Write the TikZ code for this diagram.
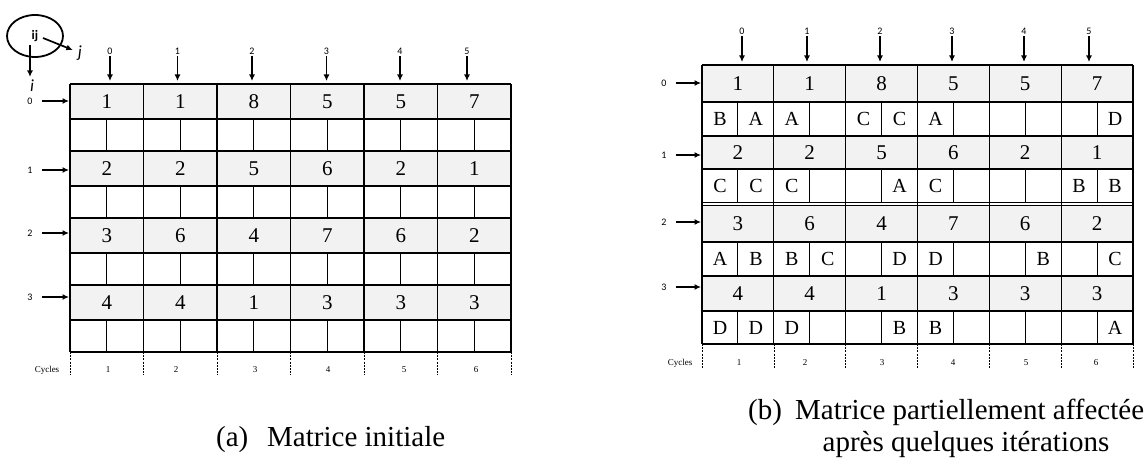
\documentclass[tikz,border=0pt]{standalone}
\usepackage{fontspec}
\setmainfont{Liberation Serif}
\newfontfamily\lblfont{Carlito}
\usetikzlibrary{arrows.meta,shapes.geometric}
\definecolor{cellgray}{HTML}{F2F2F2}
\begin{document}
\begin{tikzpicture}[x=1pt,y=-1pt,
  gridline/.style={line width=1.1pt},
  thickline/.style={line width=2pt},
  cycline/.style={line width=0.6pt,dash pattern=on 2pt off 1.2pt},
  ptr/.style={line width=1.7pt,-{Latex[length=6.5pt,width=6pt]}},
  valtxt/.style={font=\fontsize{21}{21}\selectfont,inner sep=0},
  lettxt/.style={font=\fontsize{20}{20}\selectfont,inner sep=0},
  idx/.style={font=\lblfont\fontsize{10}{10}\selectfont,inner sep=0},
  cyc/.style={font=\fontsize{9}{9}\selectfont,inner sep=0},
  captxt/.style={font=\fontsize{29}{29}\selectfont,inner sep=0,anchor=base west}]
\useasboundingbox (0,0) rectangle (1146,470);

% ================= LEFT MATRIX =================
\foreach \t/\b in {84/119,151/186,218/253,285/320}
  \fill[cellgray] (70,\t) rectangle (511,\b);
\foreach \y in {84,119,186,218,253,285,320,352}
  \draw[gridline] (70,\y) -- (511,\y);
\draw[thickline] (70,151) -- (511,151);
\foreach \i in {0,...,6}
  \draw[gridline] ({70+73.5*\i},84) -- ({70+73.5*\i},352);
\foreach \t/\b in {119/151,186/218,253/285,320/352}
  \foreach \i in {0,...,5}
    \draw[gridline] ({106.75+73.5*\i},\t) -- ({106.75+73.5*\i},\b);
% values
\foreach \r/\y/\vals in {0/101.5/{1,1,8,5,5,7},1/168.5/{2,2,5,6,2,1},2/235.5/{3,6,4,7,6,2},3/302.5/{4,4,1,3,3,3}}
  \foreach \v [count=\c from 0] in \vals
    \node[valtxt] (La\r\c) at ({106.75+73.5*\c},\y) {\v};
% column indices
\foreach \x [count=\c from 0] in {110,177.5,252,326.5,400,467}{
  \node[idx] (Lcol\c) at (\x,51) {\c};
  \coordinate (Lcolend\c) at (\x,81);
  \draw[ptr,shorten <=2pt] (Lcol\c.south) -- (Lcolend\c);
}
% row indices
\foreach \y [count=\r from 0] in {101,170,233,297}{
  \node[idx] (Lrow\r) at (30,\y) {\r};
  \coordinate (Lrowend\r) at (69,\y);
  \draw[ptr] (Lrow\r.east) ++(9,0) -- (Lrowend\r);
}
% cycles
\foreach \i in {0,...,6}
  \draw[cycline] ({70+73.5*\i},352) -- ({70+73.5*\i},375);
\node[cyc] (Lcyc) at (47,370) {Cycles};
\foreach \x [count=\c] in {108,176,255,328,404,476}
  \node[cyc] (Lcyc\c) at (\x,370) {\c};

% ij legend
\node[ellipse,draw,line width=1.8pt,minimum width=56pt,minimum height=42pt,inner sep=0,
      font=\lblfont\bfseries\fontsize{13}{13}\selectfont] (ij) at (35,36) {\raisebox{2pt}{ij}};
\node[font=\lblfont\itshape\fontsize{17}{17}\selectfont,inner sep=0] (jlab) at (80,53) {j};
\node[font=\lblfont\itshape\fontsize{17}{17}\selectfont,inner sep=0] (ilab) at (32,86) {i};
\draw[ptr] ([shift={(8,2)}]ij.center) -- ([shift={(-5,-3)}]jlab.west);
\draw[ptr] ([shift={(-5,9)}]ij.center) -- ([shift={(-2,-3)}]ilab.north);

% ================= RIGHT MATRIX =================
\foreach \t/\b in {65/102,136/169,205/242,276/311}
  \fill[cellgray] (702,\t) rectangle (1133,\b);
\foreach \y in {65,102,169,242,276,311,344}
  \draw[gridline] (702,\y) -- (1133,\y);
\draw[thickline] (702,136) -- (1133,136);
\draw[line width=0.9pt] (702,202.6) -- (1133,202.6);
\draw[line width=0.9pt] (702,205.6) -- (1133,205.6);
\foreach \i in {0,...,6}
  \draw[gridline] ({702+71.83*\i},65) -- ({702+71.83*\i},344);
\foreach \t/\b in {102/136,169/202.6,242/276,311/344}
  \foreach \i in {0,...,5}
    \draw[gridline] ({737.9+71.83*\i},\t) -- ({737.9+71.83*\i},\b);
% values
\foreach \r/\y/\vals in {0/83.5/{1,1,8,5,5,7},1/152.5/{2,2,5,6,2,1},2/223.5/{3,6,4,7,6,2},3/293.5/{4,4,1,3,3,3}}
  \foreach \v [count=\c from 0] in \vals
    \node[valtxt] (Ra\r\c) at ({737.9+71.83*\c},\y) {\v};
% letters
\foreach \r/\y/\lets in {0/119/{B,A,A,{},C,C,A,{},{},{},{},D},
                         1/186/{C,C,C,{},{},A,C,{},{},{},B,B},
                         2/259/{A,B,B,C,{},D,D,{},{},B,{},C},
                         3/327.5/{D,D,D,{},{},B,B,{},{},{},{},A}}
  \foreach \l [count=\k from 0] in \lets
    \node[lettxt] (Rl\r\k) at ({720+35.915*\k},\y) {\l};
% column indices
\foreach \x [count=\c from 0] in {742,807,880,952,1024,1089}{
  \node[idx] (Rcol\c) at (\x,31) {\c};
  \coordinate (Rcolend\c) at (\x,62);
  \draw[ptr,shorten <=2pt] (Rcol\c.south) -- (Rcolend\c);
}
% row indices
\foreach \y [count=\r from 0] in {83,155,222,287}{
  \node[idx] (Rrow\r) at (664,\y) {\r};
  \coordinate (Rrowend\r) at (701,\y);
  \draw[ptr] (Rrow\r.east) ++(9,0) -- (Rrowend\r);
}
% cycles
\foreach \i in {0,...,6}
  \draw[cycline] ({702+71.83*\i},344) -- ({702+71.83*\i},368);
\node[cyc] (Rcyc) at (680,363) {Cycles};
\foreach \x [count=\c] in {739,805,882,953,1026,1096}
  \node[cyc] (Rcyc\c) at (\x,363) {\c};

% ================= CAPTIONS =================
\node[captxt] (capa1) at (216,446) {(a)};
\node[captxt] (capa2) at (267,446) {Matrice initiale};
\node[captxt] (capb1) at (748,419) {(b)};
\node[captxt] (capb2) at (795,419) {Matrice partiellement affectée};
\node[captxt,anchor=base] (capb3) at (966,451) {après quelques itérations};
\end{tikzpicture}
\end{document}
